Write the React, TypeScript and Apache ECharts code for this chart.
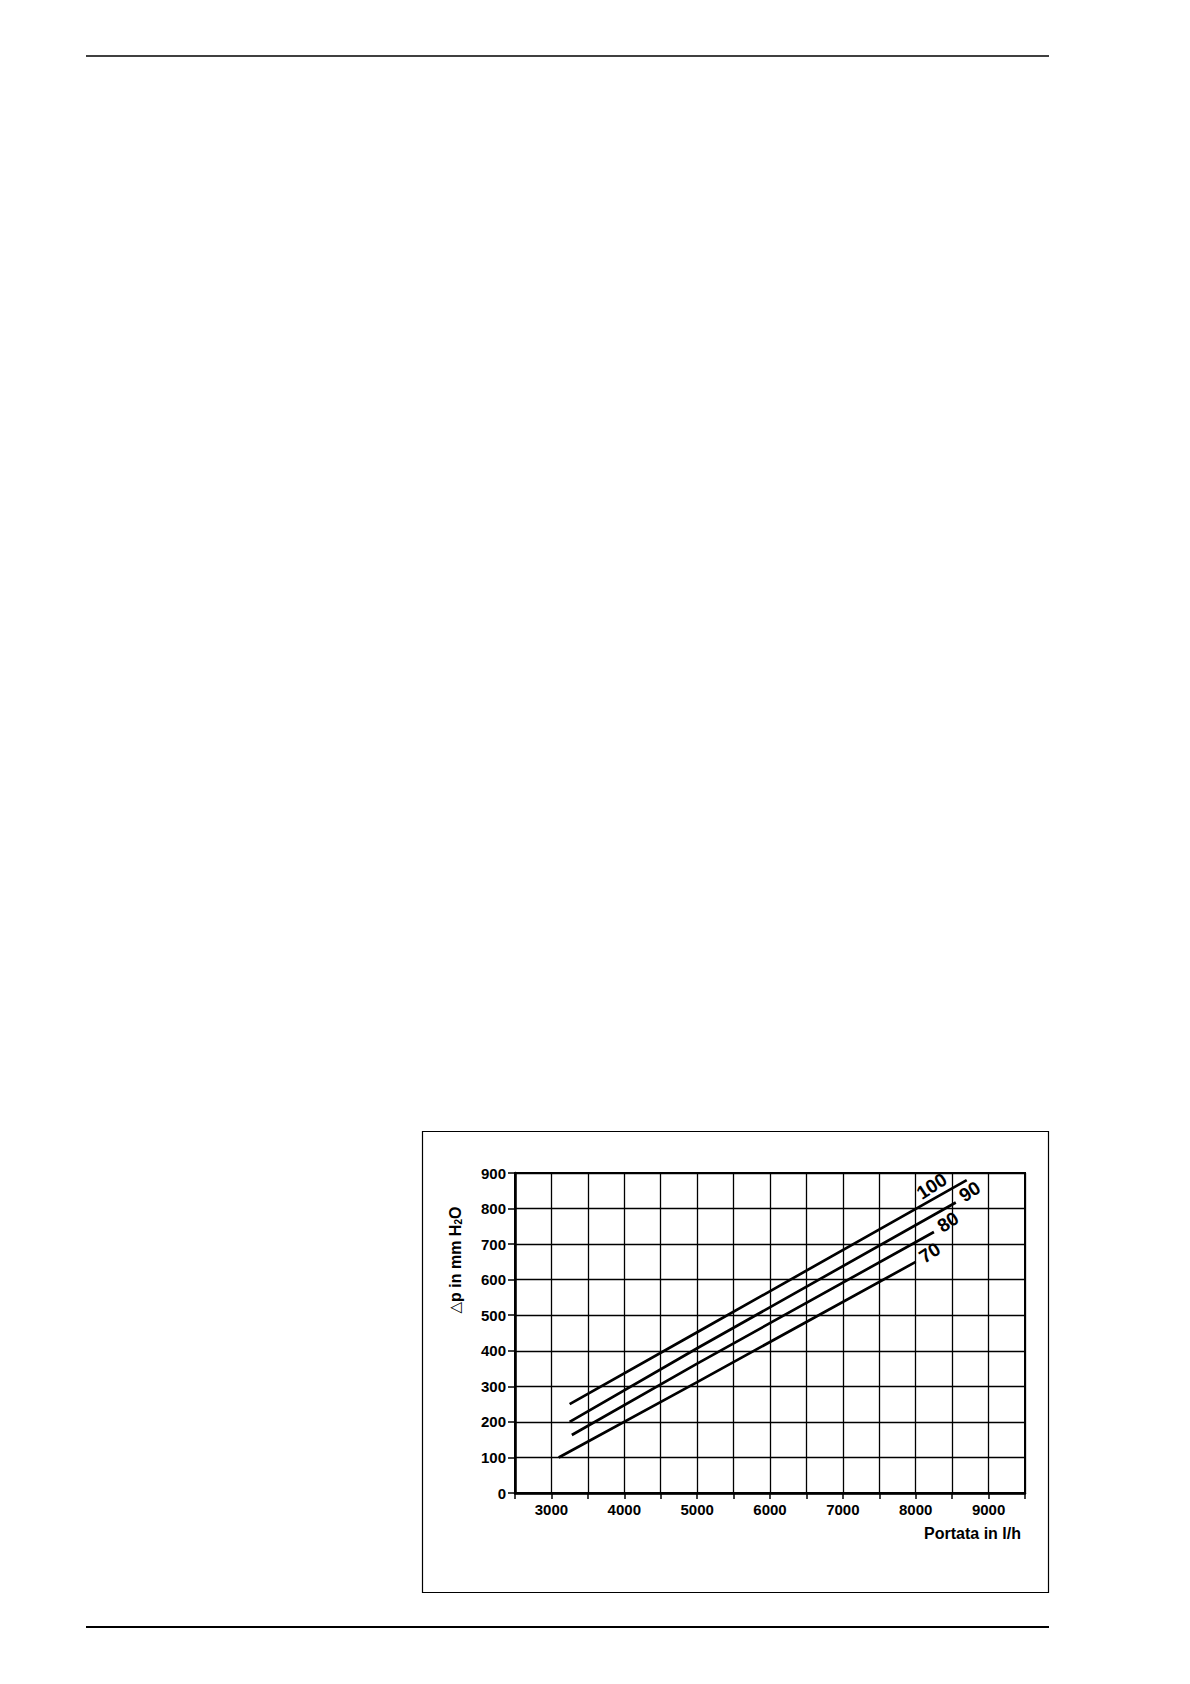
import React, { useEffect, useRef } from "react";
import * as echarts from "echarts";

// Flow rate (l/h) and pressure drop (mm H2O) for each curve
const curveNames = ["100", "90", "80", "70"];
const flow100 = [3250, 5000, 8700];
const dp100 = [250, 452, 880];
const flow90 = [3250, 5000, 8550];
const dp90 = [200, 407, 817];
const flow80 = [3280, 5000, 8250];
const dp80 = [163, 364, 734];
const flow70 = [3100, 5000, 8000];
const dp70 = [100, 312, 650];

const xTicks = [3000, 4000, 5000, 6000, 7000, 8000, 9000];
const yTicks = [0, 100, 200, 300, 400, 500, 600, 700, 800, 900];

const FONT = "'Liberation Sans', Arial, sans-serif";

function pairs(xs: number[], ys: number[]) {
  return xs.map((x, i) => [x, ys[i]]);
}

export default function App() {
  const ref = useRef<HTMLDivElement>(null);
  useEffect(() => {
    if (!ref.current) return;
    const chart = echarts.init(ref.current, null, { renderer: "svg" });
    const curves = [
      pairs(flow100, dp100),
      pairs(flow90, dp90),
      pairs(flow80, dp80),
      pairs(flow70, dp70),
    ];
    const option: any = {
      animation: false,
      backgroundColor: "#ffffff",
      grid: {
        left: 515,
        top: 1173,
        width: 510,
        height: 320,
        show: true,
        borderColor: "#000",
        borderWidth: 2,
      },
      xAxis: {
        type: "value",
        min: 2500,
        max: 9500,
        interval: 500,
        axisLine: { show: true, onZero: false, lineStyle: { color: "#000", width: 2.5 } },
        axisTick: { show: true, length: 6, lineStyle: { color: "#000", width: 1.5 } },
        splitLine: { show: true, lineStyle: { color: "#000", width: 1.3 } },
        axisLabel: {
          color: "#000",
          fontFamily: FONT,
          fontWeight: "bold",
          fontSize: 15,
          margin: 9,
          formatter: (v: number) => (xTicks.indexOf(v) >= 0 ? String(v) : ""),
        },
      },
      yAxis: {
        type: "value",
        min: 0,
        max: 900,
        interval: 100,
        axisLine: { show: true, lineStyle: { color: "#000", width: 2.5 } },
        axisTick: { show: true, length: 7, lineStyle: { color: "#000", width: 1.5 } },
        splitLine: { show: true, lineStyle: { color: "#000", width: 1.3 } },
        axisLabel: {
          color: "#000",
          fontFamily: FONT,
          fontWeight: "bold",
          fontSize: 15,
          margin: 9,
          formatter: (v: number) => (yTicks.indexOf(v) >= 0 ? String(v) : ""),
        },
      },
      series: curves.map((d, i) => ({
        type: "line",
        name: curveNames[i],
        data: d,
        showSymbol: false,
        symbol: "none",
        lineStyle: { color: "#000", width: 2.7 },
        z: 5,
      })),
    };
    chart.setOption(option);

    // curve labels placed relative to each curve end point
    const labelOffsets = [
      [-35, 6],
      [14, -11],
      [14, -10],
      [14, -9],
    ];
    const labelGraphics: any[] = curves.map((d, i) => {
      const end = d[d.length - 1];
      const p = chart.convertToPixel({ gridIndex: 0 }, end) as number[];
      return {
        type: "text",
        x: p[0] + labelOffsets[i][0],
        y: p[1] + labelOffsets[i][1],
        rotation: 0.58,
        style: {
          text: curveNames[i],
          fill: "#000",
          font: `bold 19px ${FONT}`,
          align: "center",
          verticalAlign: "middle",
        },
        z: 10,
      };
    });

    chart.setOption({
      graphic: [
        // page rules
        { type: "line", shape: { x1: 86, y1: 56, x2: 1049, y2: 56 }, style: { stroke: "#000", lineWidth: 1.5 } },
        { type: "line", shape: { x1: 86, y1: 1627, x2: 1049, y2: 1627 }, style: { stroke: "#000", lineWidth: 2.2 } },
        // frame
        {
          type: "rect",
          shape: { x: 422.5, y: 1131.5, width: 626, height: 461 },
          style: { fill: "none", stroke: "#000", lineWidth: 1.2 },
        },
        // y axis name
        {
          type: "text",
          x: 455,
          y: 1260,
          rotation: Math.PI / 2,
          style: {
            text: "{tri|△}p in mm H{sub|2}O",
            fill: "#000",
            font: `bold 16px ${FONT}`,
            align: "center",
            verticalAlign: "middle",
            rich: {
              tri: { fontFamily: "'DejaVu Sans', sans-serif", fontSize: 15, fontWeight: "normal", fill: "#000" },
              sub: { font: `bold 10px ${FONT}`, fill: "#000", verticalAlign: "bottom", padding: [7, 0, 0, 0] },
            },
          },
        },
        // x axis name
        {
          type: "text",
          x: 1021,
          y: 1533,
          style: {
            text: "Portata in l/h",
            fill: "#000",
            font: `bold 16px ${FONT}`,
            align: "right",
            verticalAlign: "middle",
          },
        },
        ...labelGraphics,
      ],
    });
    return () => chart.dispose();
  }, []);
  return (
    <div
      ref={ref}
      style={{ position: "absolute", left: 0, top: 0, width: 1190, height: 1684, background: "#fff" }}
    />
  );
}
